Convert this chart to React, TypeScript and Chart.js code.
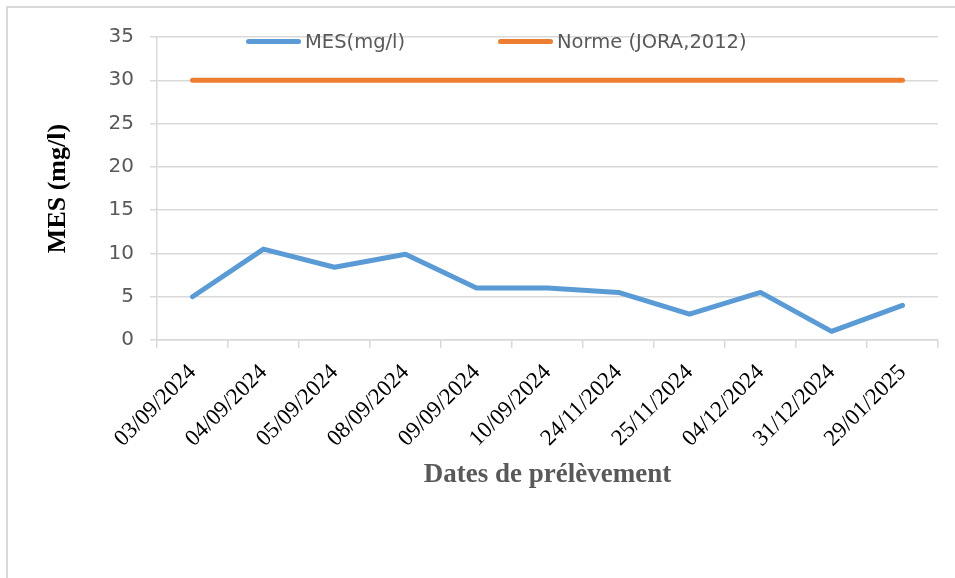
import React, { useEffect, useRef } from "react";
import { Chart, registerables } from "chart.js";

Chart.register(...registerables);

const categories = [
  "03/09/2024", "04/09/2024", "05/09/2024", "08/09/2024", "09/09/2024", "10/09/2024",
  "24/11/2024", "25/11/2024", "04/12/2024", "31/12/2024", "29/01/2025",
];
const mesValues = [5, 10.5, 8.4, 9.9, 6, 6, 5.5, 3, 5.5, 1, 4];
const normeValues = [30, 30, 30, 30, 30, 30, 30, 30, 30, 30, 30];
const seriesLabels = ["MES(mg/l)", "Norme (JORA,2012)"];
const yTitle = "MES (mg/l)";
const xTitle = "Dates de prélèvement";

const legendX = [246, 498];

const customLegend = {
  id: "customLegend",
  afterDraw(chart: any) {
    const ctx = chart.ctx;
    const y = 41.5;
    chart.data.datasets.forEach((ds: any, i: number) => {
      const x = legendX[i];
      ctx.save();
      ctx.strokeStyle = ds.borderColor;
      ctx.lineWidth = 5;
      ctx.lineCap = "round";
      ctx.beginPath();
      ctx.moveTo(x + 2.5, y);
      ctx.lineTo(x + 52.5, y);
      ctx.stroke();
      ctx.fillStyle = "#595959";
      ctx.font = '19.5px "DejaVu Sans"';
      ctx.textBaseline = "middle";
      ctx.textAlign = "left";
      ctx.fillText(ds.label, x + 59, y + 1);
      ctx.restore();
    });
  },
};

export default function App() {
  const ref = useRef<HTMLCanvasElement>(null);
  useEffect(() => {
    if (!ref.current) return;
    const chart = new Chart(ref.current, {
      type: "line",
      data: {
        labels: categories,
        datasets: [
          {
            label: seriesLabels[0],
            data: mesValues,
            borderColor: "#5B9BD5",
            backgroundColor: "#5B9BD5",
            borderWidth: 5,
            pointRadius: 0,
            tension: 0,
            borderCapStyle: "round",
            borderJoinStyle: "round",
          },
          {
            label: seriesLabels[1],
            data: normeValues,
            borderColor: "#ED7D31",
            backgroundColor: "#ED7D31",
            borderWidth: 5,
            pointRadius: 0,
            tension: 0,
            borderCapStyle: "round",
            borderJoinStyle: "round",
          },
        ],
      },
      options: {
        responsive: false,
        animation: false,
        layout: { padding: { left: 0, top: 37, right: 17, bottom: 0 } },
        plugins: {
          legend: { display: false },
          tooltip: { enabled: false },
        },
        scales: {
          x: {
            offset: true,
            afterFit: (s: any) => {
              s.height = 238;
            },
            grid: {
              offset: true,
              drawOnChartArea: false,
              drawTicks: true,
              tickLength: 8,
              color: "#d9d9d9",
              lineWidth: 1.5,
            },
            border: { display: true, color: "#d9d9d9", width: 1.5 },
            ticks: {
              autoSkip: false,
              maxRotation: 45,
              minRotation: 45,
              padding: 11,
              color: "#000000",
              font: { family: '"Liberation Serif"', size: 23 },
            },
            title: {
              display: true,
              text: xTitle,
              color: "#595959",
              font: { family: '"Liberation Serif"', size: 27, weight: "bold" },
              padding: { top: 0, bottom: 87 },
            },
          },
          y: {
            min: 0,
            max: 35,
            afterFit: (s: any) => {
              s.width = 157;
            },
            grid: {
              color: "#d9d9d9",
              lineWidth: 1.5,
              tickLength: 7,
            },
            border: { display: true, color: "#d9d9d9", width: 1.5 },
            ticks: {
              stepSize: 5,
              padding: 16,
              color: "#595959",
              font: { family: '"DejaVu Sans"', size: 20 },
            },
            title: {
              display: true,
              text: yTitle,
              color: "#000000",
              font: { family: '"Liberation Serif"', size: 26, weight: "bold" },
              padding: { top: 43, bottom: 0 },
            },
          },
        },
      },
      plugins: [customLegend],
    });
    return () => chart.destroy();
  }, []);

  return (
    <div
      style={{
        position: "fixed",
        left: 0,
        top: 0,
        width: 955,
        height: 578,
        overflow: "hidden",
        background: "#ffffff",
      }}
    >
      <div
        style={{
          position: "absolute",
          left: 6,
          top: 6,
          width: 1200,
          height: 900,
          border: "2px solid #d9d9d9",
          boxSizing: "border-box",
        }}
      />
      <canvas
        ref={ref}
        width={955}
        height={578}
        style={{ position: "absolute", left: 0, top: 0, width: 955, height: 578 }}
      />
    </div>
  );
}
